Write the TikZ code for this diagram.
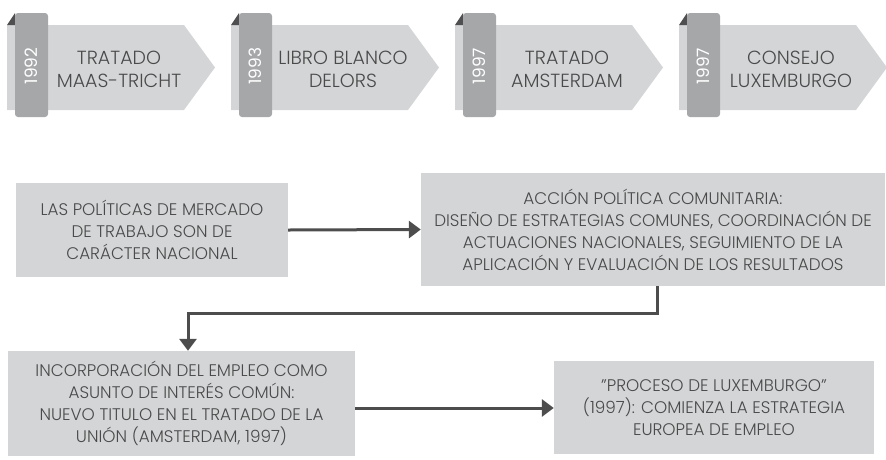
\documentclass[tikz,border=0pt]{standalone}
\usepackage{fontspec}
\setmainfont{Poppins Light}
\newfontfamily\yearfont{Poppins}
\usepackage{tikz}
\usetikzlibrary{positioning}
\usetikzlibrary{arrows.meta}

\definecolor{boxgray}{HTML}{D4D5D7}
\definecolor{tabgray}{HTML}{A6A7A9}
\definecolor{foldgray}{HTML}{4F4F4F}
\definecolor{linegray}{HTML}{4D4D4D}
\definecolor{textgray}{HTML}{4A4A4A}

\begin{document}
\begin{tikzpicture}[x=1pt,y=-1pt,
	banner/.style={fill=boxgray},
	bannertab/.style={fill=tabgray,rounded corners=3pt},
	fold/.style={fill=foldgray},
	yeartext/.style={text=white,rotate=90,font=\yearfont\fontsize{17}{17}\selectfont},
	bannertext/.style={text=textgray,align=center,font=\fontsize{19}{23}\selectfont},
	stagebox/.style={fill=boxgray,text=textgray,align=center,inner sep=0pt,font=\fontsize{16.8}{22}\selectfont},
	flow/.style={draw=linegray,line width=3pt,-{Triangle[length=12pt,width=17pt]}}]
	\useasboundingbox (0,0) rectangle (886,459);
	% timeline banners
	\foreach \bx/\year/\what [count=\i] in {7/1992/{TRATADO\\MAAS-TRICHT},231/1993/{LIBRO BLANCO\\DELORS},455/1997/{TRATADO\\AMSTERDAM},679/1997/{CONSEJO\\LUXEMBURGO}}{
		\fill[banner] (\bx,25) -- ++(177,0) -- ++(31,42.5) -- ++(-31,42.5) -- (\bx,110) -- cycle;
		\fill[fold] (\bx,25) -- ++(8,-12) -- ++(0,12) -- cycle;
		\fill[bannertab] (\bx+8,13) -- ++(33,0) -- ++(0,104) -- ++(-33,0) -- cycle;
		\node[yeartext] (year\i) at (\bx+24.5,66) {\year};
		\node[bannertext] (event\i) at (\bx+112,69) {\what};
	}
	% process boxes
	\node[stagebox,minimum width=272pt,minimum height=94pt] (national) at (152,230) {LAS POLÍTICAS DE MERCADO\\DE TRABAJO SON DE\\CARÁCTER NACIONAL};
	\node[stagebox,minimum width=464pt,minimum height=113pt] (community) at (653,229.5) {ACCIÓN POLÍTICA COMUNITARIA:\\DISEÑO DE ESTRATEGIAS COMUNES, COORDINACIÓN DE\\ACTUACIONES NACIONALES, SEGUIMIENTO DE LA\\APLICACIÓN Y EVALUACIÓN DE LOS RESULTADOS};
	\node[stagebox,minimum width=347pt,minimum height=105pt] (interest) at (181.5,403.5) {INCORPORACIÓN DEL EMPLEO COMO\\ASUNTO DE INTERÉS COMÚN:\\NUEVO TITULO EN EL TRATADO DE LA\\UNIÓN (AMSTERDAM, 1997)};
	\node[stagebox,minimum width=320pt,minimum height=93pt] (luxembourg) at (714,407.5) {"PROCESO DE LUXEMBURGO"\\(1997): COMIENZA LA ESTRATEGIA\\EUROPEA DE EMPLEO};
	\coordinate (turn) at (657,313);
	% connectors
	\draw[flow] (national.east) -- (community.west);
	\draw[flow] (community.south -| turn) -- (turn) -- (turn -| 188,0) -- (interest.north -| 188,0);
	\draw[flow] (interest.east |- 0,408) -- (luxembourg.west |- 0,408);
\end{tikzpicture}
\end{document}
